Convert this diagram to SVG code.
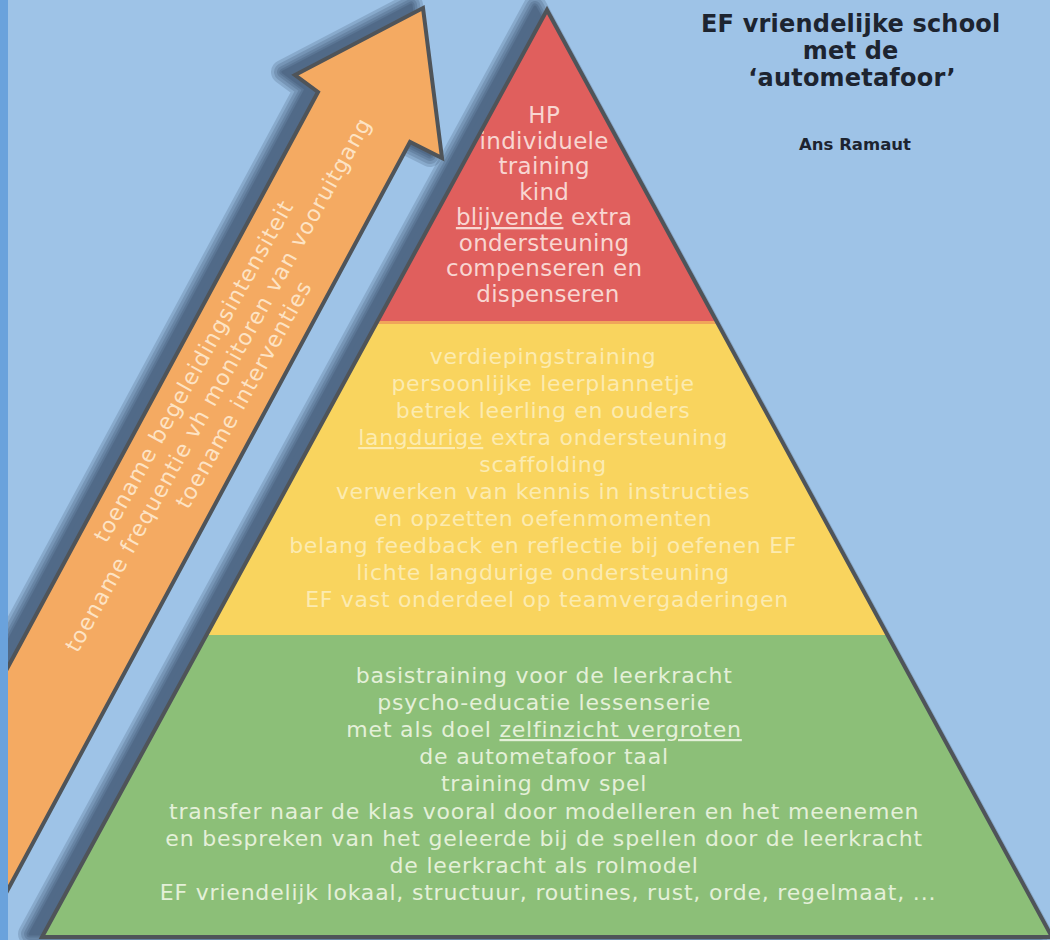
<svg xmlns="http://www.w3.org/2000/svg" width="1050" height="940" viewBox="0 0 1050 940">
  <defs>
    <polygon id="pyrShape" points="547,10 1052,937 42,937"/>
    <polygon id="arrShape" points="423,8 442,158 410,142 -30,960 -150,960 318,92 295,75"/>
    <style>
      .body { font-family: "DejaVu Sans", "Liberation Sans", sans-serif; text-anchor: middle; }
      .t-red { font-size: 23px; fill: #f8d6d1; letter-spacing: 0.3px; }
      .t-yel { font-size: 22px; fill: #fcebb0; letter-spacing: 0.7px; }
      .t-grn { font-size: 22px; fill: #e4f0d9; letter-spacing: 0.8px; }
      .t-arr { font-size: 22px; fill: #fde3c4; letter-spacing: 1px; }
      .title { font-family: "DejaVu Sans", "Liberation Sans", sans-serif; font-weight: bold; text-anchor: middle; fill: #1d2430; }
      .edge { fill: none; stroke: #4f5459; stroke-width: 4; stroke-linejoin: miter; }
      .ul { text-decoration: underline; }
      .sh { fill: #22354f; stroke: #22354f; stroke-linejoin: round; opacity: 0.17; }
    </style>
  </defs>

  <rect x="0" y="0" width="1050" height="940" fill="#9ec3e7"/>

  <!-- soft shadows -->
  <g transform="translate(-12,-3)">
    <use href="#pyrShape" class="sh" stroke-width="24"/>
    <use href="#pyrShape" class="sh" stroke-width="18"/>
    <use href="#pyrShape" class="sh" stroke-width="12"/>
    <use href="#pyrShape" class="sh" stroke-width="7"/>
    <use href="#pyrShape" class="sh" stroke-width="3"/>
    <use href="#arrShape" class="sh" stroke-width="24"/>
    <use href="#arrShape" class="sh" stroke-width="18"/>
    <use href="#arrShape" class="sh" stroke-width="12"/>
    <use href="#arrShape" class="sh" stroke-width="7"/>
    <use href="#arrShape" class="sh" stroke-width="3"/>
  </g>

  <g id="pyramid">
    <g id="tier-top">
      <polygon points="547,10 717,322 377,322" fill="#e05f5d"/>
      <text class="body t-red">
        <tspan x="548" y="123">HP</tspan>
        <tspan x="548" y="148.5">individuele</tspan>
        <tspan x="548" y="174">training</tspan>
        <tspan x="548" y="199.5">kind</tspan>
        <tspan x="548" y="225"><tspan class="ul">blijvende</tspan> extra</tspan>
        <tspan x="548" y="250.5">ondersteuning</tspan>
        <tspan x="548" y="276">compenseren en</tspan>
        <tspan x="548" y="301.5">dispenseren</tspan>
      </text>
    </g>
    <g id="tier-middle">
      <polygon points="377,322 717,322 887.5,635 206.5,635" fill="#f9d45e"/>
      <line x1="378" y1="322.5" x2="716" y2="322.5" stroke="#f0a55a" stroke-width="3"/>
      <text class="body t-yel">
        <tspan x="547" y="364">verdiepingstraining</tspan>
        <tspan x="547" y="391">persoonlijke leerplannetje</tspan>
        <tspan x="547" y="418">betrek leerling en ouders</tspan>
        <tspan x="547" y="445"><tspan class="ul">langdurige</tspan> extra ondersteuning</tspan>
        <tspan x="547" y="472">scaffolding</tspan>
        <tspan x="547" y="499">verwerken van kennis in instructies</tspan>
        <tspan x="547" y="526">en opzetten oefenmomenten</tspan>
        <tspan x="547" y="553">belang feedback en reflectie bij oefenen EF</tspan>
        <tspan x="547" y="580">lichte langdurige ondersteuning</tspan>
        <tspan x="547" y="607">EF vast onderdeel op teamvergaderingen</tspan>
      </text>
    </g>
    <g id="tier-base">
      <polygon points="206.5,635 887.5,635 1052,937 42,937" fill="#8cbf78"/>
      <text class="body t-grn">
        <tspan x="548" y="683">basistraining voor de leerkracht</tspan>
        <tspan x="548" y="710">psycho-educatie lessenserie</tspan>
        <tspan x="548" y="737">met als doel <tspan class="ul">zelfinzicht vergroten</tspan></tspan>
        <tspan x="548" y="764">de autometafoor taal</tspan>
        <tspan x="548" y="791">training dmv spel</tspan>
        <tspan x="548" y="819">transfer naar de klas vooral door modelleren en het meenemen</tspan>
        <tspan x="548" y="846">en bespreken van het geleerde bij de spellen door de leerkracht</tspan>
        <tspan x="548" y="873">de leerkracht als rolmodel</tspan>
        <tspan x="548" y="900">EF vriendelijk lokaal, structuur, routines, rust, orde, regelmaat, ...</tspan>
      </text>
    </g>
    <polygon class="edge" points="547,10 1052,937 42,937"/>
  </g>

  <g id="arrow">
    <polygon points="423,8 442,158 410,142 -30,960 -150,960 318,92 295,75" fill="#f4aa62" stroke="#4f5459" stroke-width="4" stroke-linejoin="miter"/>
    <g transform="translate(221.5,382) rotate(-61)">
      <text class="body t-arr">
        <tspan x="0" y="-22">toename begeleidingsintensiteit</tspan>
        <tspan x="0" y="6">toename frequentie vh monitoren van vooruitgang</tspan>
        <tspan x="0" y="33">toename interventies</tspan>
      </text>
    </g>
  </g>

  <g id="title">
    <text class="title" font-size="24" letter-spacing="0.2">
      <tspan x="855" y="32">EF vriendelijke school</tspan>
      <tspan x="855" y="59">met de</tspan>
      <tspan x="852" y="86">‘autometafoor’</tspan>
    </text>
    <text class="title" font-size="16.5" x="855" y="150">Ans Ramaut</text>
  </g>

  <rect x="0" y="0" width="8" height="940" fill="#6aa2dc"/>
</svg>
